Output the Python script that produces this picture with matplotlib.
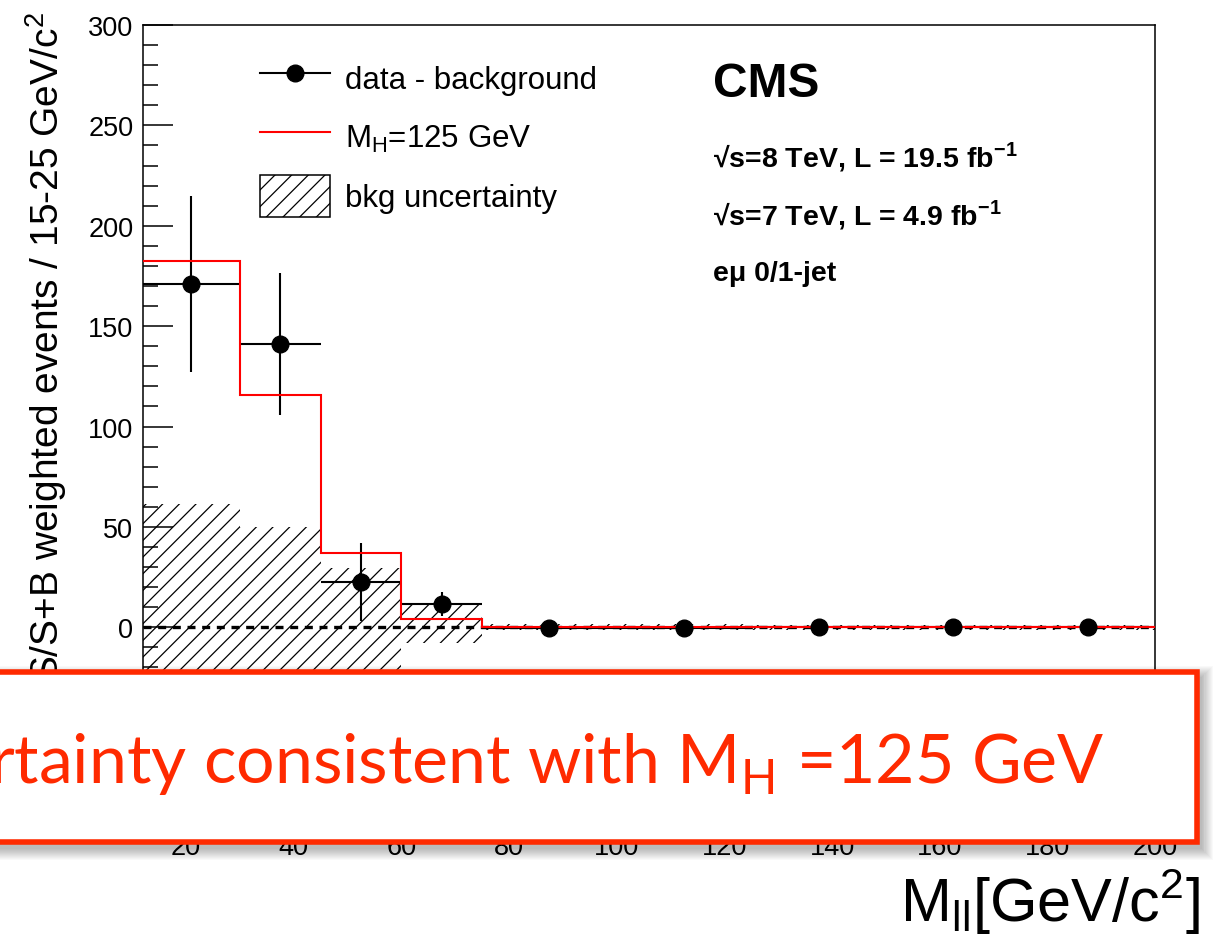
import matplotlib
matplotlib.use("Agg")
import matplotlib.pyplot as plt
import numpy as np
from matplotlib.lines import Line2D
from matplotlib.patches import Patch, Rectangle

plt.rcParams['font.family'] = ['Liberation Sans', 'DejaVu Sans']
plt.rcParams['hatch.linewidth'] = 0.9

# bins of M_ll [GeV/c^2]
edges = np.array([12, 30, 45, 60, 75, 100, 125, 150, 175, 200])
centers = 0.5 * (edges[:-1] + edges[1:])
halfw = 0.5 * np.diff(edges)

# data - background, S/(S+B) weighted
data = [171.0, 141.0, 22.4, 11.5, -0.2, -0.5, 0.3, 0.3, 0.3]
data_err = [43.7, 35.4, 19.5, 6.0, 1.5, 1.5, 1.5, 1.5, 1.5]
# expected signal M_H = 125 GeV
signal = [182.4, 115.6, 37.0, 4.0, 0.3, 0.2, 0.1, 0.1, 0.1]
# background uncertainty band
bkg_lo = [-61.3, -49.8, -29.4, -8.0, -1.5, -1.5, -1.3, -1.3, -1.3]
bkg_hi = [61.3, 49.8, 29.4, 12.0, 1.5, 1.5, 1.3, 1.3, 1.3]

W, H = 1215, 937
fig = plt.figure(figsize=(W / 100, H / 100), dpi=100)
ax = fig.add_axes([143 / W, 1 - 829 / H, (1155 - 143) / W, (829 - 26) / H])

ax.bar(edges[:-1], np.array(bkg_hi) - np.array(bkg_lo), width=np.diff(edges),
       bottom=bkg_lo, align='edge', facecolor='none', edgecolor='black',
       hatch='//', linewidth=0, zorder=1)
ax.axhline(0, color='black', lw=2.4, ls=(0, (2.4, 2.0)), zorder=2)
ax.errorbar(centers, data, xerr=halfw, yerr=data_err, fmt='none', ecolor='black',
            elinewidth=1.5, capsize=0, zorder=3)
ax.stairs(signal, edges, color='red', lw=1.5, baseline=None, zorder=4)
ax.plot(centers, data, 'o', color='black', ms=12, zorder=5)

ax.set_xlim(12, 200)
ax.set_ylim(-100, 300)
ax.set_xticks(np.arange(20, 201, 20))
ax.set_xticks(np.arange(15, 200, 5), minor=True)
ax.set_yticks(np.arange(-100, 301, 50))
ax.set_yticks(np.arange(-100, 301, 10), minor=True)
ax.tick_params(which='both', direction='in', top=False, right=False,
               labelsize=19.5, width=1.1, pad=7)
ax.tick_params(axis='x', pad=4)
ax.tick_params(which='major', length=21.6)
ax.tick_params(which='minor', length=10.8)
for s in ax.spines.values():
    s.set_linewidth(1.1)

handles = [Line2D([], [], color='black', marker='o', ms=12, lw=1.5),
           Line2D([], [], color='red', lw=1.5),
           Patch(facecolor='white', edgecolor='black', hatch='//', lw=1.1)]
labels = ['data - background', 'M$_\\mathregular{H}$=125 GeV', 'bkg uncertainty']
ax.legend(handles, labels, loc='upper left', bbox_to_anchor=(260 / W, 1 - 58 / H),
          bbox_transform=fig.transFigure, frameon=False, fontsize=22.5,
          handlelength=2.25, handleheight=1.69, handletextpad=0.48,
          labelspacing=0.55, borderpad=0, borderaxespad=0)

fig.text(713 / W, 1 - 97 / H, 'CMS', fontsize=34.5, weight='bold', va='baseline')
fig.text(713 / W, 1 - 167 / H, '√s=8 TeV, L = 19.5 fb$^\\mathregular{-1}$',
         fontsize=20.5, weight='bold', va='baseline')
fig.text(713 / W, 1 - 225 / H, '√s=7 TeV, L = 4.9 fb$^\\mathregular{-1}$',
         fontsize=20.5, weight='bold', va='baseline')
fig.text(713 / W, 1 - 281 / H, 'eμ 0/1-jet', fontsize=20.5, weight='bold',
         va='baseline')

fig.text(46 / W, 1 - 12 / H, 'S/S+B weighted events / 15-25 GeV/c$^\\mathregular{2}$',
         rotation=90, ha='center', va='top', fontsize=28)
fig.text(1200 / W, 1 - 922 / H, 'M$_\\mathregular{ll}$[GeV/c$^\\mathregular{2}$]',
         ha='right', va='baseline', fontsize=44)

# overlay box from the slide
bx0, bx1, by0, by1 = -30, 1196.5, 672.5, 842.5
for k in range(12, 0, -1):
    fig.add_artist(Rectangle(((bx0 - k + 4) / W, 1 - (by1 + k + 6) / H),
                             (bx1 - bx0 + 2 * k) / W, (by1 - by0 + 2 * k) / H,
                             transform=fig.transFigure, facecolor='black',
                             edgecolor='none', alpha=0.025, zorder=9))
fig.add_artist(Rectangle((bx0 / W, 1 - by1 / H), (bx1 - bx0) / W, (by1 - by0) / H,
                         transform=fig.transFigure, facecolor='white',
                         edgecolor='#ff2a00', lw=4, zorder=10))
fig.text(1105 / W, 1 - 783 / H, 'rtainty consistent with M$_\\mathregular{H}$ =125 GeV',
         ha='right', va='baseline', fontsize=49, color='#ff2a00', family='Lato',
         zorder=11)

fig.savefig('out.png', dpi=100)
